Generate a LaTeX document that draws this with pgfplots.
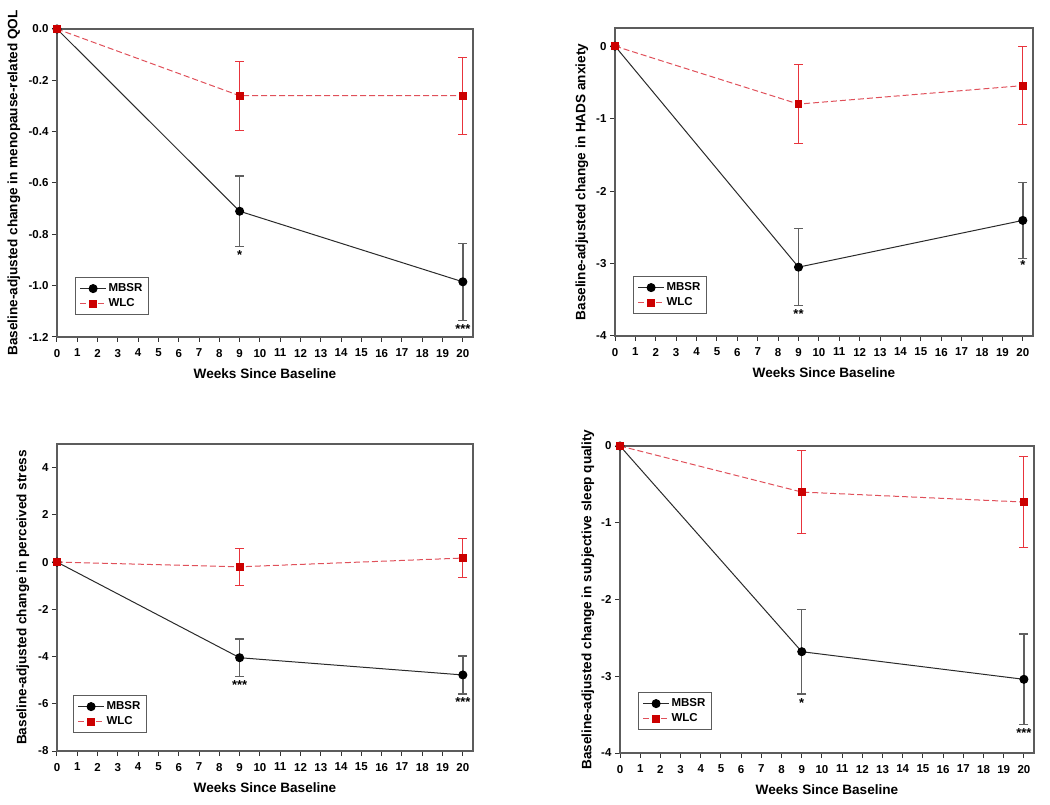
\documentclass[border=0pt]{standalone}
\usepackage{pgfplots}
\pgfplotsset{compat=1.18}
\usepackage{fontspec}
\setmainfont{Liberation Sans}
\definecolor{frame}{HTML}{5C5C5C}
\definecolor{mbsrline}{HTML}{2A2A2A}
\definecolor{mbsrerr}{HTML}{606060}
\definecolor{wlcline}{HTML}{E0505A}
\definecolor{wlcerr}{HTML}{E8343C}
\definecolor{wlcmark}{HTML}{CC0000}
\newcommand{\tickfont}{\fontsize{11.5}{12}\selectfont\bfseries}
\newcommand{\labfont}{\fontsize{13.6}{15}\selectfont\bfseries}
\tikzset{star/.style={anchor=north, font=\fontsize{13}{14}\selectfont\bfseries, inner sep=1pt, yshift=-3pt}}
\pgfplotsset{
  panel/.style={
    scale only axis, anchor=south west,
    xmin=0, xmax=20.5, xtick={0,...,20},
    axis line style={draw=frame, line width=1.3pt},
    tick style={draw=black!80, line width=1pt},
    tick align=outside, xtick pos=bottom, ytick pos=left,
    major tick length=5pt, minor tick num=0,
    ticklabel style={font=\tickfont},
    xticklabel style={yshift=-3.5pt},
    /pgf/number format/assume math mode=true,
    xlabel={Weeks Since Baseline},
    xlabel style={font=\labfont, at={(axis description cs:0.5,-37/308)}, anchor=center},
    ylabel style={font=\labfont, anchor=center},
    legend style={draw=frame, line width=1.2pt, font=\fontsize{11.5}{12}\selectfont\bfseries,
      anchor=south west, inner xsep=4pt, inner ysep=4pt, row sep=1.5pt, cells={anchor=west}},
    legend cell align=left,
    legend image code/.code={\draw[mark repeat=2,mark phase=2] plot coordinates {(0pt,0pt) (13pt,0pt) (26pt,0pt)};},
  },
  mbsr/.style={color=mbsrline, line width=1pt, mark=*, mark size=4pt, mark options={fill=black, draw=black, solid}},
  wlc/.style={color=wlcline, line width=1pt, dash pattern=on 6pt off 3pt, mark=square*, mark size=3.4pt, mark options={fill=wlcmark, draw=wlcmark, solid}},
  mbsrerr/.style={forget plot, draw=none, mark=none, error bars/.cd, y dir=both, y explicit,
    error bar style={draw=mbsrerr, line width=1.4pt, solid},
    error mark options={rotate=90, mark size=4.5pt, draw=mbsrerr, line width=1.4pt, solid}},
  wlcerr/.style={forget plot, draw=none, mark=none, error bars/.cd, y dir=both, y explicit,
    error bar style={draw=wlcerr, line width=1pt, solid},
    error mark options={rotate=90, mark size=4.5pt, draw=wlcerr, line width=1pt, solid}},
}
\begin{document}
\begin{tikzpicture}
\useasboundingbox (0,0) rectangle (1050pt,804pt);
% Panel 1
\begin{axis}[panel, at={(57pt,467pt)}, width=416pt, height=308pt,
  ymin=-1.2, ymax=0, ytick={-1.2,-1.0,-0.8,-0.6,-0.4,-0.2,0},
  yticklabels={-1.2,-1.0,-0.8,-0.6,-0.4,-0.2,0.0},
  ylabel={Baseline-adjusted change in menopause-related QOL},
  ylabel style={at={(axis description cs:-43/416,0.5)}},
  legend style={at={(18/416,22/308)}}]
\addplot[mbsrerr] coordinates {(9,-0.71) +- (0,0.138) (20,-0.985) +- (0,0.15)};
\addplot[wlcerr] coordinates {(9,-0.26) +- (0,0.135) (20,-0.26) +- (0,0.15)};
\addplot[mbsr] coordinates {(0,0) (9,-0.71) (20,-0.985)};
\addplot[wlc] coordinates {(0,0) (9,-0.26) (20,-0.26)};
\legend{MBSR,WLC}
\node[star] at (axis cs:9,-0.848) {*};
\node[star] at (axis cs:20,-1.135) {***};
\end{axis}
% Panel 2
\begin{axis}[panel, at={(615pt,468pt)}, width=418pt, height=308pt,
  ymin=-4, ymax=0.25, ytick={-4,-3,-2,-1,0},
  yticklabels={-4,-3,-2,-1,0},
  ylabel={Baseline-adjusted change in HADS anxiety},
  ylabel style={at={(axis description cs:-33/418,0.5)}},
  legend style={at={(18/418,22/308)}}]
\addplot[mbsrerr] coordinates {(9,-3.05) +- (0,0.53) (20,-2.405) +- (0,0.525)};
\addplot[wlcerr] coordinates {(9,-0.80) +- (0,0.54) (20,-0.545) +- (0,0.535)};
\addplot[mbsr] coordinates {(0,0) (9,-3.05) (20,-2.405)};
\addplot[wlc] coordinates {(0,0) (9,-0.80) (20,-0.545)};
\legend{MBSR,WLC}
\node[star] at (axis cs:9,-3.58) {**};
\node[star, anchor=center, yshift=-1pt] at (axis cs:20,-2.97) {*};
\end{axis}
% Panel 3
\begin{axis}[panel, at={(57pt,53pt)}, width=416pt, height=307pt,
  ymin=-8, ymax=5, ytick={-8,-6,-4,-2,0,2,4},
  yticklabels={-8,-6,-4,-2,0,2,4},
  ylabel={Baseline-adjusted change in perceived stress},
  ylabel style={at={(axis description cs:-34/416,0.5)}},
  legend style={at={(16/416,18/307)}}]
\addplot[mbsrerr] coordinates {(9,-4.05) +- (0,0.8) (20,-4.78) +- (0,0.8)};
\addplot[wlcerr] coordinates {(9,-0.20) +- (0,0.79) (20,0.17) +- (0,0.82)};
\addplot[mbsr] coordinates {(0,0) (9,-4.05) (20,-4.78)};
\addplot[wlc] coordinates {(0,0) (9,-0.20) (20,0.17)};
\legend{MBSR,WLC}
\node[star] at (axis cs:9,-4.85) {***};
\node[star] at (axis cs:20,-5.58) {***};
\end{axis}
% Panel 4
\begin{axis}[panel, at={(620pt,51pt)}, width=414pt, height=307pt,
  ymin=-4, ymax=0, ytick={-4,-3,-2,-1,0},
  yticklabels={-4,-3,-2,-1,0},
  ylabel={Baseline-adjusted change in subjective sleep quality},
  ylabel style={at={(axis description cs:-32/414,0.5)}},
  legend style={at={(18/414,23/307)}}]
\addplot[mbsrerr] coordinates {(9,-2.68) +- (0,0.55) (20,-3.04) +- (0,0.59)};
\addplot[wlcerr] coordinates {(9,-0.60) +- (0,0.54) (20,-0.73) +- (0,0.59)};
\addplot[mbsr] coordinates {(0,0) (9,-2.68) (20,-3.04)};
\addplot[wlc] coordinates {(0,0) (9,-0.60) (20,-0.73)};
\legend{MBSR,WLC}
\node[star] at (axis cs:9,-3.23) {*};
\node[star] at (axis cs:20,-3.63) {***};
\end{axis}
\end{tikzpicture}
\end{document}
